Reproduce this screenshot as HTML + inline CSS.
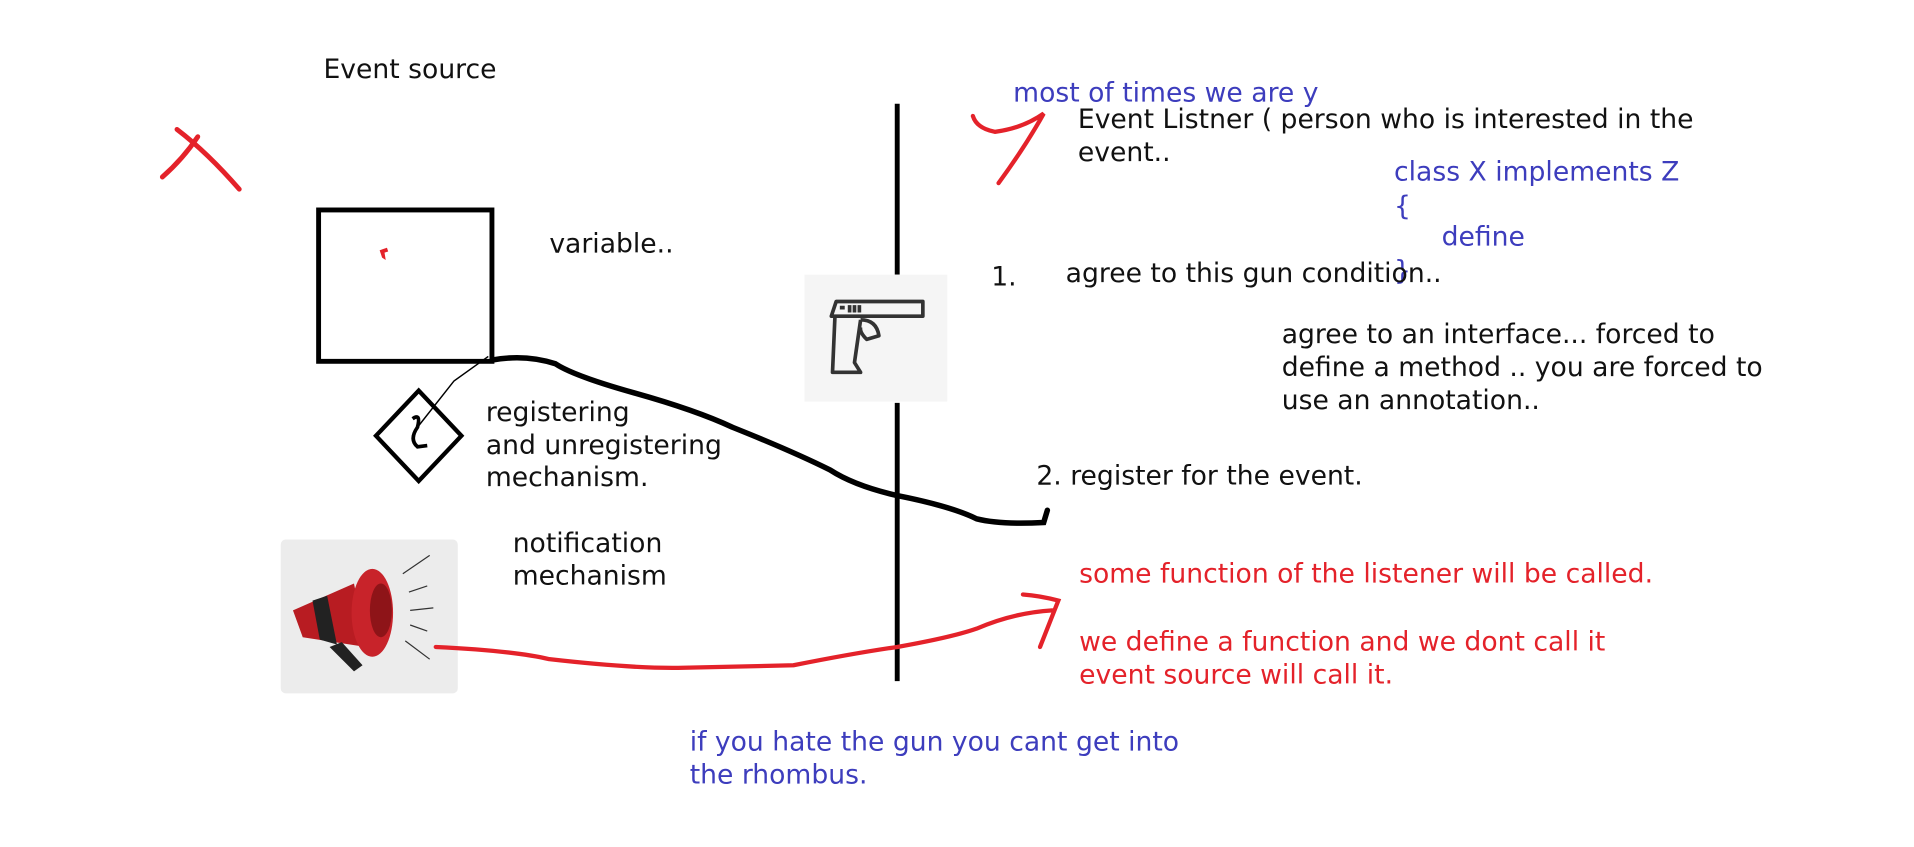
<!DOCTYPE html>
<html><head><meta charset="utf-8"><style>
html,body{margin:0;padding:0;background:#fff;width:1914px;height:847px;overflow:hidden}
svg{display:block}
text{font-family:"DejaVu Sans","Liberation Sans",sans-serif;font-size:21.8px}
.k{fill:#111}.b{fill:#3d3dbd}.r{fill:#e4222a}
</style></head><body>
<svg width="1914" height="847" viewBox="0 0 1914 847">
<g transform="scale(1.2207)">
<text x="265" y="64" class="k">Event source</text>
<path d="M145 106 Q170 125 196 155 M162 112 Q150 130 133 145" stroke="#e4222a" stroke-width="4" fill="none" stroke-linecap="round"/>
<rect x="261" y="172" width="142" height="124" fill="none" stroke="#000" stroke-width="4"/>
<path d="M311 205 l6 -2 l1 3 l-3 1 l1 6 l-3 -2z" fill="#e4222a"/>
<text x="450" y="207" class="k">variable..</text>
<path d="M735 85 V225 M735 330 V558" stroke="#000" stroke-width="4"/>
<rect x="659" y="225" width="117" height="104" fill="#f5f5f5"/>
<g fill="none" stroke="#333" stroke-width="3" stroke-linejoin="round">
<path d="M685 247 H756 V259 H681Z M684 259 L682 305 L705 305 L700 297 L705 262"/>
<path d="M688 252 H692 M696 250 V256 M700 250 V256 M704 250 V256"/>
<path d="M705 262 Q718 262 720 275 L710 278 Q704 272 705 268"/>
</g>
<path d="M343 320 L378 357 L343 394 L308 357Z" fill="none" stroke="#000" stroke-width="3.5"/>
<path d="M338 343 Q345 338 342 350 Q335 360 342 366 L350 365" fill="none" stroke="#000" stroke-width="3"/>
<path d="M342 350 L372 312 L400 292" fill="none" stroke="#000" stroke-width="1.2"/>
<text x="398" y="345" class="k">registering</text>
<text x="398" y="372" class="k">and unregistering</text>
<text x="398" y="398" class="k">mechanism.</text>
<path d="M403 295 Q430 290 455 298 Q470 308 520 322 Q570 336 600 350 Q650 370 680 385 Q700 398 735 406 Q780 415 800 425 Q820 430 855 428 L858 418" fill="none" stroke="#000" stroke-width="4.5" stroke-linecap="round"/>
<rect x="230" y="442" width="145" height="126" rx="4" fill="#ececec"/>
<g>
<path d="M240 500 L290 478 L300 530 L248 522Z" fill="#b81c22"/>
<path d="M256 492 L268 488 L276 528 L262 524Z" fill="#222"/>
<ellipse cx="305" cy="502" rx="17" ry="36" fill="#c8232a"/>
<ellipse cx="312" cy="500" rx="9" ry="22" fill="#8e1418"/>
<path d="M270 530 L290 550 L297 545 L280 526Z" fill="#222"/>
<path d="M330 470 L352 455 M335 485 L350 480 M336 500 L355 498 M336 512 L350 517 M332 525 L352 540" stroke="#333" stroke-width="1"/>
</g>
<text x="420" y="452" class="k">notification</text>
<text x="420" y="479" class="k">mechanism</text>
<path d="M357 530 Q420 533 450 540 Q520 548 560 547 L650 545 Q700 535 735 530 Q780 522 800 515 Q830 502 862 500" fill="none" stroke="#e4222a" stroke-width="3.5" stroke-linecap="round"/>
<path d="M838 487 Q852 488 867 492 L852 530" fill="none" stroke="#e4222a" stroke-width="3.5" stroke-linecap="round"/>
<text x="565" y="615" class="b">if you hate the gun you cant get into</text>
<text x="565" y="642" class="b">the rhombus.</text>
<text x="830" y="83" class="b">most of times we are y</text>
<path d="M797 95 Q800 105 815 108 Q838 105 855 93 Q840 120 818 150" fill="none" stroke="#e4222a" stroke-width="3.5" stroke-linecap="round"/>
<text x="883" y="105" class="k">Event Listner ( person who is interested in the</text>
<text x="883" y="132" class="k">event..</text>
<text x="1142" y="148" class="b">class X implements Z</text>
<text x="1142" y="176" class="b">{</text>
<text x="1181" y="201" class="b">define</text>
<text x="1142" y="229" class="b">}</text>
<text x="812" y="234" class="k">1.</text>
<text x="873" y="231" class="k">agree to this gun condition..</text>
<text x="1050" y="281" class="k">agree to an interface... forced to</text>
<text x="1050" y="308" class="k">define a method .. you are forced to</text>
<text x="1050" y="335" class="k">use an annotation..</text>
<text x="849" y="397" class="k">2. register for the event.</text>
<text x="884" y="477" class="r">some function of the listener will be called.</text>
<text x="884" y="533" class="r">we define a function and we dont call it</text>
<text x="884" y="560" class="r">event source will call it.</text>
</g>
</svg>
</body></html>
